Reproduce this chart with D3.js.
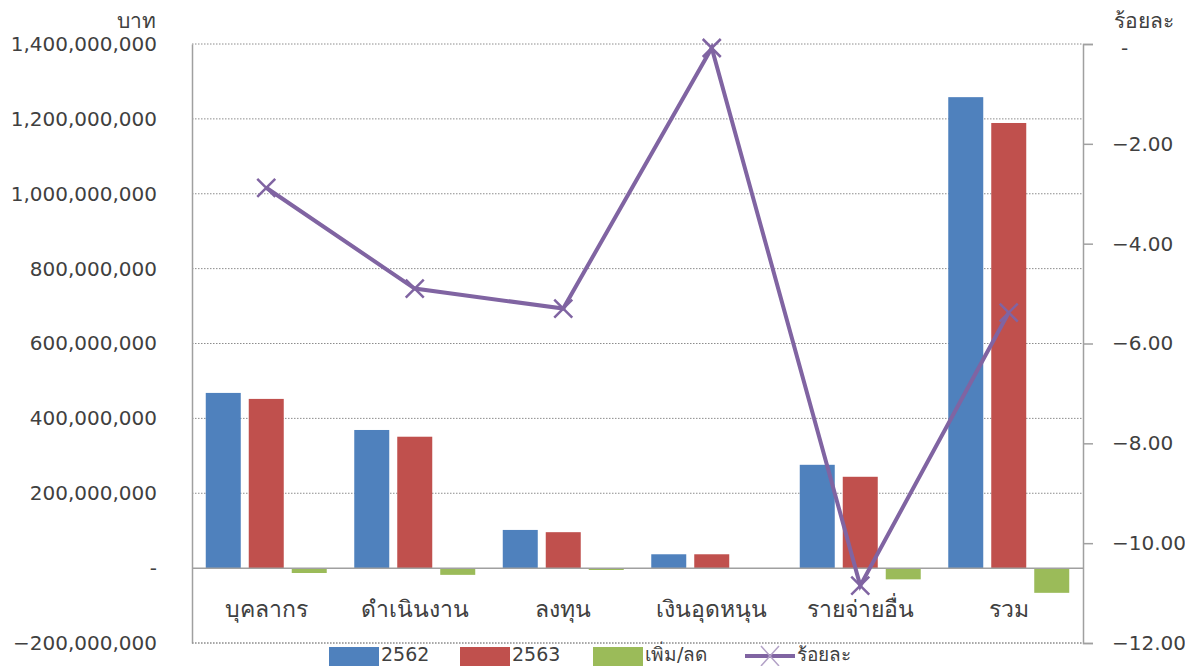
<!DOCTYPE html>
<html><head><meta charset="utf-8">
<script src="https://cdn.jsdelivr.net/npm/d3@7"></script>
<style>
html,body{margin:0;padding:0;background:#fff;}
svg text{font-family:"DejaVu Sans","Noto Sans",sans-serif;fill:#404040;}
</style></head>
<body><svg id="c" width="1185" height="666"></svg>
<script>
const categories = ["บุคลากร","ดำเนินงาน","ลงทุน","เงินอุดหนุน","รายจ่ายอื่น","รวม"];
const v2562 = [468000000, 369000000, 102000000, 37000000, 276000000, 1258000000];
const v2563 = [452000000, 351000000, 96000000, 37000000, 244000000, 1189000000];
const diff = [-13000000, -18000000, -5000000, -300000, -30000000, -66000000];
const pct = [-2.88, -4.90, -5.30, -0.08, -10.85, -5.38];
const leftTicks = [-200000000,0,200000000,400000000,600000000,800000000,1000000000,1200000000,1400000000];
const rightTicks = [-12,-10,-8,-6,-4,-2,0];
const seriesNames = ["2562","2563","เพิ่ม/ลด","ร้อยละ"];
const colors = ["#4f81bd","#c0504d","#9bbb59","#8064a2"];

const svg = d3.select("#c");
const L = 192, R = 1083, T = 44, B = 643;
const x = d3.scaleBand().domain(categories).range([L,R]).paddingInner(0).paddingOuter(0);
const xs = d3.scaleBand().domain([0,1,2]).range([0,x.bandwidth()]).paddingInner(0.186).paddingOuter(0.32);
const y = d3.scaleLinear().domain([-200000000,1400000000]).range([B,T]);
const y2 = d3.scaleLinear().domain([-12,0]).range([B,T]);

// gridlines
svg.append("g").selectAll("line").data(leftTicks.filter(d=>d!==0)).join("line")
  .attr("x1",L).attr("x2",R).attr("y1",d=>y(d)).attr("y2",d=>y(d))
  .attr("stroke","#8c8c8c").attr("stroke-width",1).attr("stroke-dasharray","1.5,1.5");

// bars
const series = [v2562, v2563, diff];
series.forEach((arr,si)=>{
  svg.append("g").selectAll("rect").data(arr).join("rect")
    .attr("x",(d,i)=>x(categories[i])+xs(si))
    .attr("width",xs.bandwidth())
    .attr("y",d=>y(Math.max(0,d)))
    .attr("height",d=>Math.abs(y(d)-y(0)))
    .attr("fill",colors[si]);
});

// zero line
svg.append("line").attr("x1",L).attr("x2",R).attr("y1",y(0)).attr("y2",y(0))
  .attr("stroke","#a0a0a0").attr("stroke-width",1.5);

// left axis
const ax = d3.axisLeft(y).tickValues(leftTicks).tickSize(0).tickPadding(35)
  .tickFormat(d=> d===0 ? "-" : d3.format(",")(d));
const gL = svg.append("g").attr("transform",`translate(${L},0)`).call(ax);
gL.select(".domain").attr("stroke","#a0a0a0").attr("stroke-width",1.5);
gL.selectAll("text").style("font-size","20px").attr("fill","#404040");

// right axis
const ax2 = d3.axisRight(y2).tickValues(rightTicks).tickSize(10).tickPadding(19)
  .tickFormat(d=> d===0 ? "-" : d3.format(".2f")(d));
const gR = svg.append("g").attr("transform",`translate(${R},0)`).call(ax2);
gR.select(".domain").attr("stroke","#a0a0a0").attr("stroke-width",1.5);
gR.selectAll(".tick line").attr("stroke","#a0a0a0").attr("stroke-width",1.5);
gR.selectAll("text").style("font-size","20px").attr("fill","#404040");
gR.selectAll(".tick").filter(d=>d===0).select("text").attr("x",38).attr("dy","0.5em");

// bottom dotted border
svg.append("line").attr("x1",L).attr("x2",R).attr("y1",B).attr("y2",B)
  .attr("stroke","#8c8c8c").attr("stroke-dasharray","1.5,1.5");

// category labels
svg.append("g").selectAll("text").data(categories).join("text")
  .attr("x",d=>x(d)+x.bandwidth()/2).attr("y",y(0)+49)
  .attr("text-anchor","middle").style("font-size","23px").text(d=>d);

// axis titles
svg.append("text").attr("x",156).attr("y",28).attr("text-anchor","end").style("font-size","21px").text("บาท");
svg.append("text").attr("x",1114).attr("y",28).style("font-size","21px").text("ร้อยละ");

// line
const cx = (d,i)=>x(categories[i])+x.bandwidth()/2;
svg.append("path").datum(pct)
  .attr("d",d3.line().x(cx).y(d=>y2(d)))
  .attr("fill","none").attr("stroke",colors[3]).attr("stroke-width",4);
svg.append("g").selectAll("path").data(pct).join("path")
  .attr("d",(d,i)=>{const X=cx(d,i),Y=y2(d),s=9;return `M${X-s},${Y-s}L${X+s},${Y+s}M${X-s},${Y+s}L${X+s},${Y-s}`;})
  .attr("stroke",colors[3]).attr("stroke-width",2.5).attr("fill","none");

// legend
const lg = svg.append("g");
const lx = [329,460,593,745];
const ly = 647;
[0,1,2].forEach(i=>{
  lg.append("rect").attr("x",lx[i]).attr("y",ly).attr("width",50).attr("height",19).attr("fill",colors[i]);
  lg.append("text").attr("x",lx[i]+52).attr("y",ly+14).style("font-size","19px").text(seriesNames[i]);
});
lg.append("line").attr("x1",lx[3]).attr("x2",lx[3]+50).attr("y1",ly+9).attr("y2",ly+9).attr("stroke",colors[3]).attr("stroke-width",4);
lg.append("path").attr("d",`M${lx[3]+16},${ly-1}L${lx[3]+34},${ly+19}M${lx[3]+16},${ly+19}L${lx[3]+34},${ly-1}`)
  .attr("stroke","#b3a2c7").attr("stroke-width",1.5);
lg.append("text").attr("x",lx[3]+52).attr("y",ly+14).style("font-size","19px").text(seriesNames[3]);
</script></body></html>
